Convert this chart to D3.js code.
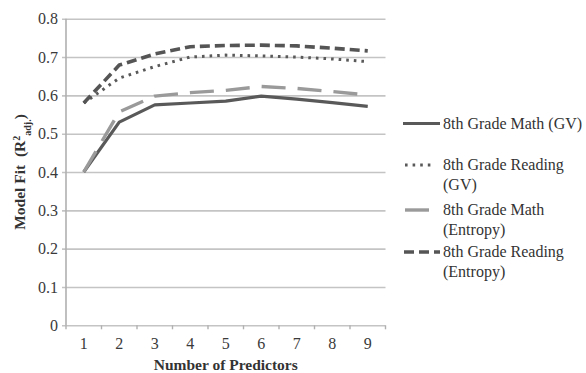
<!DOCTYPE html>
<html>
<head>
<meta charset="utf-8">
<script src="https://cdn.jsdelivr.net/npm/d3@7"></script>
<style>
  html, body { margin: 0; padding: 0; background: #fff; }
  svg { display: block; }
  svg text { font-family: "Liberation Serif", "Times New Roman", "DejaVu Serif", serif; }
</style>
</head>
<body>
<svg id="chart" width="586" height="373"></svg>
<script>
// Number of predictors in the model
const predictors = [1, 2, 3, 4, 5, 6, 7, 8, 9];
// Adjusted R² for each model
const mathGV      = [0.400, 0.530, 0.575, 0.580, 0.585, 0.598, 0.590, 0.581, 0.571];
const readingGV   = [0.580, 0.645, 0.675, 0.700, 0.705, 0.703, 0.700, 0.695, 0.688];
const mathEnt     = [0.400, 0.557, 0.598, 0.607, 0.613, 0.623, 0.618, 0.610, 0.601];
const readingEnt  = [0.580, 0.679, 0.708, 0.727, 0.730, 0.731, 0.729, 0.723, 0.716];
const yTicks = [0, 0.1, 0.2, 0.3, 0.4, 0.5, 0.6, 0.7, 0.8];

const series = [
  { name: ["8th Grade Math (GV)"], values: mathGV, color: "#595959", width: 3.2, dash: null },
  { name: ["8th Grade Reading", "(GV)"], values: readingGV, color: "#595959", width: 3, dash: "2.6,5" },
  { name: ["8th Grade Math", "(Entropy)"], values: mathEnt, color: "#9a9a9a", width: 3.4, dash: "24,12" },
  { name: ["8th Grade Reading", "(Entropy)"], values: readingEnt, color: "#555555", width: 3.6, dash: "10,5" }
];

const svg = d3.select("#chart");
const plot = { left: 66, right: 385.5, top: 18.7, bottom: 325.3 };

const xBand = d3.scaleBand().domain(predictors).range([plot.left, plot.right]).padding(0);
const xPos = d => xBand(d) + xBand.bandwidth() / 2;
const y = d3.scaleLinear().domain([0, 0.8]).range([plot.bottom, plot.top]);

// horizontal gridlines and y tick labels
const yAxis = d3.axisLeft(y).tickValues(yTicks)
  .tickFormat(d => d === 0 ? "0" : d3.format(".1f")(d));
const gy = svg.append("g").attr("transform", `translate(${plot.left},0)`).call(yAxis);
gy.attr("font-family", null);
gy.select(".domain").remove();
gy.selectAll(".tick line").attr("x1", -4).attr("x2", plot.right - plot.left)
  .attr("stroke", "#c4c4c4").attr("stroke-width", 1.6);
gy.selectAll(".tick text").attr("x", -8).attr("font-size", 16).attr("fill", "#3a3a3a");

// vertical axis line
svg.append("line").attr("x1", plot.left).attr("x2", plot.left)
  .attr("y1", plot.top).attr("y2", plot.bottom)
  .attr("stroke", "#b0b0b0").attr("stroke-width", 1.6);

// category boundary ticks below the x axis
const boundaries = predictors.map(p => xBand(p)).concat([plot.right]);
svg.append("g").selectAll("line").data(boundaries).join("line")
  .attr("x1", d => d).attr("x2", d => d)
  .attr("y1", plot.bottom).attr("y2", plot.bottom + 4)
  .attr("stroke", "#b0b0b0").attr("stroke-width", 1.4);

// x tick labels
svg.append("g").selectAll("text").data(predictors).join("text")
  .attr("x", d => xPos(d)).attr("y", 349)
  .attr("text-anchor", "middle").attr("font-size", 16).attr("fill", "#3a3a3a")
  .text(d => d);

// series lines
const line = d3.line().x((d, i) => xPos(predictors[i])).y(d => y(d));
svg.append("g").selectAll("path").data(series).join("path")
  .attr("d", d => line(d.values))
  .attr("fill", "none")
  .attr("stroke", d => d.color)
  .attr("stroke-width", d => d.width)
  .attr("stroke-dasharray", d => d.dash)
  .attr("stroke-linejoin", "round");

// legend
const legendRows = [
  { y: 123.5, x1: 403, x2: 440 },
  { y: 165,   x1: 405, x2: 434 },
  { y: 210,   x1: 405, x2: 433 },
  { y: 252,   x1: 404, x2: 440 }
];
const lg = svg.append("g");
series.forEach((s, i) => {
  const r = legendRows[i];
  lg.append("line").attr("x1", r.x1).attr("x2", r.x2).attr("y1", r.y).attr("y2", r.y)
    .attr("stroke", s.color).attr("stroke-width", s.width)
    .attr("stroke-dasharray", s.dash);
  const t = lg.append("text").attr("x", 443).attr("y", r.y + 5)
    .attr("font-size", 16).attr("fill", "#333");
  s.name.forEach((ln, k) => {
    t.append("tspan").attr("x", 443).attr("dy", k === 0 ? 0 : 20).text(ln);
  });
});

// axis titles
svg.append("text").attr("x", (plot.left + plot.right) / 2).attr("y", 370)
  .attr("text-anchor", "middle").attr("font-size", 15.5).attr("font-weight", "bold")
  .attr("fill", "#333").text("Number of Predictors");

const yt = svg.append("text")
  .attr("transform", `translate(25,${(plot.top + plot.bottom) / 2}) rotate(-90)`)
  .attr("text-anchor", "middle").attr("font-size", 15.5).attr("font-weight", "bold")
  .attr("fill", "#333").attr("xml:space", "preserve").style("white-space", "pre");
yt.append("tspan").text("Model Fit  (R");
yt.append("tspan").attr("font-size", 10).attr("baseline-shift", "super").text("2");
yt.append("tspan").attr("font-size", 10).attr("baseline-shift", "sub").text("adj.");
yt.append("tspan").text(")");
</script>
</body>
</html>
